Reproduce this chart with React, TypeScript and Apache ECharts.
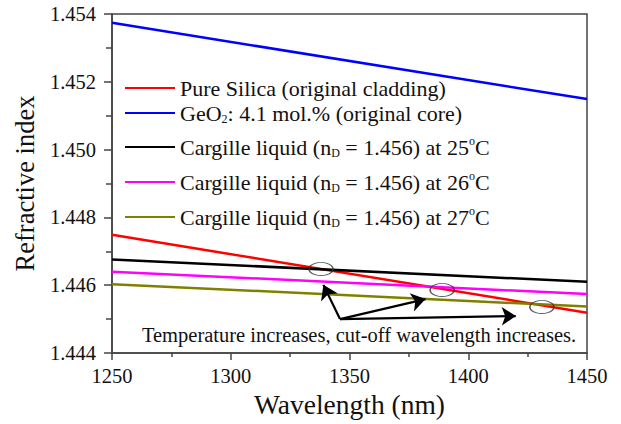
import React, { useEffect, useRef } from "react";
import * as echarts from "echarts";

// Wavelength range (nm) and refractive index of each material at its ends
const wavelengths = [1250, 1450];
const pureSilica = [1.44749, 1.44519];
const geo2Core = [1.45374, 1.45149];
const cargille25 = [1.44676, 1.4461];
const cargille26 = [1.4464, 1.44574];
const cargille27 = [1.44603, 1.44537];

// Crossing points (cut-off) between cladding and each liquid
const cutoffWavelengths = [1338, 1389, 1431];
const cutoffIndex = [1.44648, 1.44586, 1.44536];

// Arrows from the note toward the crossings
const arrowStart = [1346, 1.445];
const arrowEnds = [
  [1339, 1.44601],
  [1382, 1.44559],
  [1420, 1.44509],
];

const xTicks = { min: 1250, max: 1450, interval: 50 };
const yTicks = { min: 1.444, max: 1.454, interval: 0.002 };

const seriesNames = ["silica", "geo2", "c25", "c26", "c27"];
const legendLabels: Record<string, string> = {
  silica: "Pure Silica (original cladding)",
  geo2: "GeO{sub|2}: 4.1 mol.% (original core)",
  c25: "Cargille liquid (n{sub|D} = 1.456) at 25{sup|o}C",
  c26: "Cargille liquid (n{sub|D} = 1.456) at 26{sup|o}C",
  c27: "Cargille liquid (n{sub|D} = 1.456) at 27{sup|o}C",
};
const seriesValues = [pureSilica, geo2Core, cargille25, cargille26, cargille27];
const seriesColors = ["#ff0000", "#0000ff", "#000000", "#ff00ff", "#808000"];

const FONT = "Liberation Serif";
const TEXT = "#111";
const FRAME = "#444";

const legendText = {
  fontFamily: FONT,
  fontSize: 22,
  color: TEXT,
  lineHeight: 24,
  rich: {
    sub: { fontFamily: FONT, fontSize: 12, lineHeight: 12, verticalAlign: "bottom", color: TEXT },
    sup: { fontFamily: FONT, fontSize: 12, lineHeight: 12, verticalAlign: "top", color: TEXT },
  },
};

export default function App() {
  const ref = useRef<HTMLDivElement>(null);

  useEffect(() => {
    if (!ref.current) return;
    const chart = echarts.init(ref.current, null, { renderer: "svg" });

    const lineSeries = seriesNames.map((name, i) => ({
      name,
      type: "line",
      symbol: "none",
      data: wavelengths.map((w, j) => [w, seriesValues[i][j]]),
      lineStyle: { color: seriesColors[i], width: 2.5 },
      itemStyle: { color: seriesColors[i] },
      z: 3,
    }));

    const legendBase = {
      orient: "vertical",
      left: 125,
      padding: 0,
      icon: "rect",
      itemWidth: 50,
      itemHeight: 2.2,
      itemGap: 0,
      selectedMode: false,
      formatter: (n: string) => legendLabels[n],
      textStyle: legendText,
    };

    chart.setOption({
      animation: false,
      backgroundColor: "#fff",
      grid: {
        left: 112,
        right: 34,
        top: 14,
        bottom: 71,
        show: true,
        borderColor: FRAME,
        borderWidth: 1.5,
        backgroundColor: "transparent",
      },
      legend: [
        { ...legendBase, top: 76, itemGap: 1, data: seriesNames.slice(0, 2) },
        { ...legendBase, top: 135, itemGap: 11, data: seriesNames.slice(2) },
      ],
      xAxis: {
        type: "value",
        ...xTicks,
        name: "Wavelength (nm)",
        nameLocation: "middle",
        nameGap: 35,
        nameTextStyle: { fontFamily: FONT, fontSize: 27.5, color: TEXT },
        axisLine: { show: true, lineStyle: { color: FRAME, width: 1.5 } },
        axisTick: { show: true, inside: false, length: 7, lineStyle: { color: FRAME, width: 1.5 } },
        minorTick: { show: true, splitNumber: 2, length: 4, lineStyle: { color: FRAME, width: 1.5 } },
        axisLabel: {
          fontFamily: FONT,
          fontSize: 20.5,
          color: TEXT,
          margin: 12,
          formatter: (v: number) => String(v),
        },
        splitLine: { show: false },
      },
      yAxis: {
        type: "value",
        ...yTicks,
        name: "Refractive index",
        nameLocation: "middle",
        nameGap: 74,
        nameTextStyle: { fontFamily: FONT, fontSize: 26.5, color: TEXT },
        axisLine: { show: true, lineStyle: { color: FRAME, width: 1.5 } },
        axisTick: { show: true, inside: false, length: 8, lineStyle: { color: FRAME, width: 1.5 } },
        minorTick: { show: true, splitNumber: 2, length: 6, lineStyle: { color: FRAME, width: 1.5 } },
        axisLabel: {
          fontFamily: FONT,
          fontSize: 20.5,
          color: TEXT,
          margin: 16,
          formatter: (v: number) => v.toFixed(3),
        },
        splitLine: { show: false },
      },
      series: [
        ...lineSeries,
        {
          name: "cutoff",
          type: "scatter",
          symbol: "circle",
          symbolSize: [24, 13],
          data: cutoffWavelengths.map((w, i) => [w, cutoffIndex[i]]),
          itemStyle: { color: "rgba(0,0,0,0)", borderColor: "#333", borderWidth: 1.2 },
          z: 4,
        },
        {
          name: "arrows",
          type: "lines",
          coordinateSystem: "cartesian2d",
          symbol: ["none", "arrow"],
          symbolSize: 14,
          lineStyle: { color: "#000", width: 2.2, opacity: 1 },
          data: arrowEnds.map((end) => ({ coords: [arrowStart, end] })),
          z: 5,
        },
      ],
      graphic: [
        {
          type: "text",
          x: 359,
          y: 335,
          style: {
            text: "Temperature increases, cut-off wavelength increases.",
            fontFamily: FONT,
            fontSize: 20.5,
            fill: TEXT,
            textAlign: "center",
            textVerticalAlign: "middle",
          },
          z: 10,
        },
      ],
    });

    return () => chart.dispose();
  }, []);

  return (
    <div
      ref={ref}
      style={{ position: "fixed", left: 0, top: 0, width: 621, height: 424, background: "#fff" }}
    />
  );
}
